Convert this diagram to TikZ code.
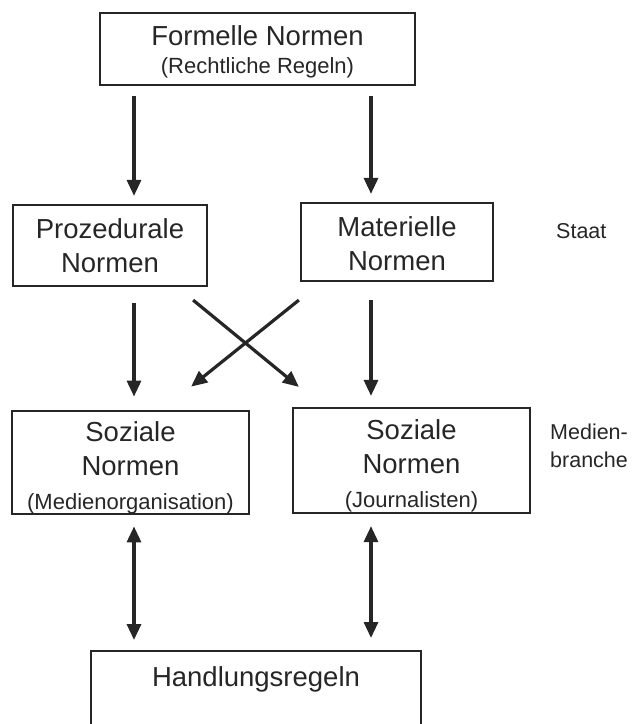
\documentclass[tikz,border=0pt]{standalone}
\usepackage{fontspec}
\setmainfont{Liberation Sans}
\usetikzlibrary{arrows.meta}
\definecolor{ink}{HTML}{262626}

\begin{document}
\begin{tikzpicture}[x=1pt,y=-1pt,
	box/.style={draw=ink, line width=2.2pt, align=center, inner sep=0pt, text=ink},
	big/.style={font=\fontsize{27.5}{34}\selectfont},
	arr/.style={draw=ink, line width=3.2pt, -{Triangle[length=16pt,width=14pt]}},
	darr/.style={draw=ink, line width=3.2pt, {Triangle[length=16pt,width=14pt]}-{Triangle[length=16pt,width=14pt]}},
	side/.style={text=ink, font=\fontsize{21.5}{28}\selectfont, align=left, anchor=west, inner sep=0pt}]
	\useasboundingbox (0,0) rectangle (635,724);
	\clip (0,0) rectangle (635,724);
	\coordinate (colL) at (134,0);
	\coordinate (colR) at (371,0);
	\node[box, font=\fontsize{27.5}{28}\selectfont, minimum width=315pt, minimum height=72pt] (formal) at (257.5,49) {\rule{0pt}{26pt}Formelle Normen\\{\fontsize{22}{28}\selectfont (Rechtliche Regeln)}};
	\node[box, big, minimum width=194pt, minimum height=81pt] (proz) at (110,245.5) {Prozedurale\\Normen};
	\node[box, big, minimum width=192pt, minimum height=78pt] (mat) at (397,242) {\rule{0pt}{23pt}Materielle\\Normen};
	\node[box, big, minimum width=237pt, minimum height=103pt] (sozM) at (130.5,462.5) {\rule{0pt}{31pt}Soziale\\Normen\\{\fontsize{22}{28}\selectfont (Medienorganisation)}};
	\node[box, big, minimum width=237pt, minimum height=105pt] (sozJ) at (411.5,460.5) {\rule{0pt}{31pt}Soziale\\Normen\\{\fontsize{22}{28}\selectfont (Journalisten)}};
	\node[box, big, minimum width=330pt, anchor=north, text height=20pt, text depth=85pt, inner ysep=15pt] (hand) at (256,650) {Handlungsregeln};
	\node[side] (staat) at (556,231) {Staat};
	\node[side] (branche) at (550,446) {Medien-\\branche};
	\draw[arr, shorten <=10pt, shorten >=8pt] (formal.south -| colL) -- (proz.north -| colL);
	\draw[arr, shorten <=10pt, shorten >=8pt] (formal.south -| colR) -- (mat.north -| colR);
	\draw[arr, shorten <=16pt, shorten >=13pt] (proz.south -| colL) -- (sozM.north -| colL);
	\draw[arr, shorten <=18pt, shorten >=11pt] (mat.south -| colR) -- (sozJ.north -| colR);
	\draw[arr] ([shift={(-15,13)}]proz.south east) -- ([shift={(7,-20)}]sozJ.north west);
	\draw[arr] ([shift={(-1,18)}]mat.south west) -- ([shift={(-59,-23)}]sozM.north east);
	\draw[darr, shorten <=11pt, shorten >=10pt] (sozM.south -| colL) -- (hand.north -| colL);
	\draw[darr, shorten <=12pt, shorten >=12pt] (sozJ.south -| colR) -- (hand.north -| colR);
\end{tikzpicture}
\end{document}
